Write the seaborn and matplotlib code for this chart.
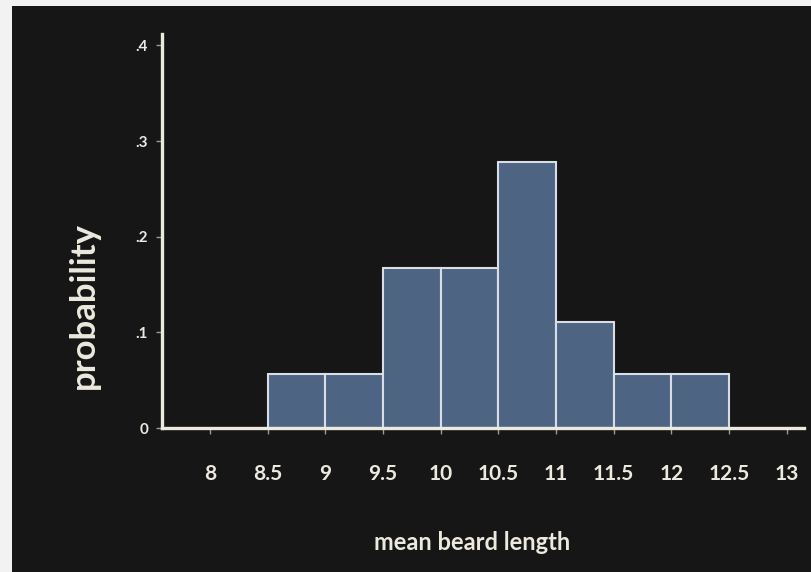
import matplotlib
matplotlib.use("Agg")
import matplotlib.pyplot as plt
import matplotlib.patches as mpatches
import seaborn as sns

# Sample distribution of the mean beard length
bin_edges = [8.5, 9.0, 9.5, 10.0, 10.5, 11.0, 11.5, 12.0, 12.5]
probabilities = [0.056, 0.056, 0.167, 0.167, 0.278, 0.111, 0.056, 0.056]
x_ticks = [8, 8.5, 9, 9.5, 10, 10.5, 11, 11.5, 12, 12.5, 13]
x_tick_labels = ["8", "8.5", "9", "9.5", "10", "10.5", "11", "11.5", "12", "12.5", "13"]
y_ticks = [0, 0.1, 0.2, 0.3, 0.4]
y_tick_labels = ["0", ".1", ".2", ".3", ".4"]

bin_centers = [(a + b) / 2 for a, b in zip(bin_edges[:-1], bin_edges[1:])]

sns.set_theme(style="dark")
plt.rcParams["font.family"] = ["Lato", "DejaVu Sans"]

chalk = "#ece9df"
board = "#161616"
bar_fill = "#4d6483"
bar_edge = "#d9dee6"

W, H = 811, 572
fig = plt.figure(figsize=(W / 100, H / 100), dpi=100)
fig.patch.set_facecolor("#f2f2f2")
# dark board area inside a thin light frame on the top and left
board_rect = mpatches.Rectangle((12 / W, 0), 1 - 12 / W, 1 - 6 / H,
                                transform=fig.transFigure,
                                facecolor=board, edgecolor="none", zorder=-10)
fig.add_artist(board_rect)

ax = fig.add_axes([162 / W, 1 - 428 / H, (804 - 162) / W, (428 - 34) / H])
ax.set_zorder(1)
ax.set_facecolor(board)

sns.histplot(x=bin_centers, weights=probabilities, bins=bin_edges, stat="count",
             color=bar_fill, alpha=1.0, edgecolor=bar_edge, linewidth=1.5, ax=ax)

ax.set_xlim(7.584, 13.15)
ax.set_ylim(0, 0.412)
ax.grid(False)

for side in ("top", "right"):
    ax.spines[side].set_visible(False)
for side in ("left", "bottom"):
    ax.spines[side].set_visible(True)
    ax.spines[side].set_color(chalk)
    ax.spines[side].set_linewidth(2.4)
    ax.spines[side].set_zorder(5)

ax.set_xticks(x_ticks)
ax.set_xticklabels(x_tick_labels, fontsize=15, fontweight="bold", color=chalk)
ax.set_yticks(y_ticks)
ax.set_yticklabels(y_tick_labels, fontsize=11, fontweight="bold", color=chalk)
ax.tick_params(axis="x", bottom=True, direction="out", length=4, width=1,
               color="#9a9a9a", pad=22)
ax.tick_params(axis="y", left=True, direction="out", length=4, width=1,
               color="#9a9a9a", pad=6)

ax.set_xlabel("mean beard length", fontsize=17, fontweight="bold", color=chalk)
ax.xaxis.set_label_coords(0.483, -0.262)
ax.set_ylabel("probability", fontsize=25, fontweight="bold", color=chalk)
ax.yaxis.set_label_coords(-0.097, 0.312)

fig.savefig("out.png", dpi=100, facecolor=fig.get_facecolor())
